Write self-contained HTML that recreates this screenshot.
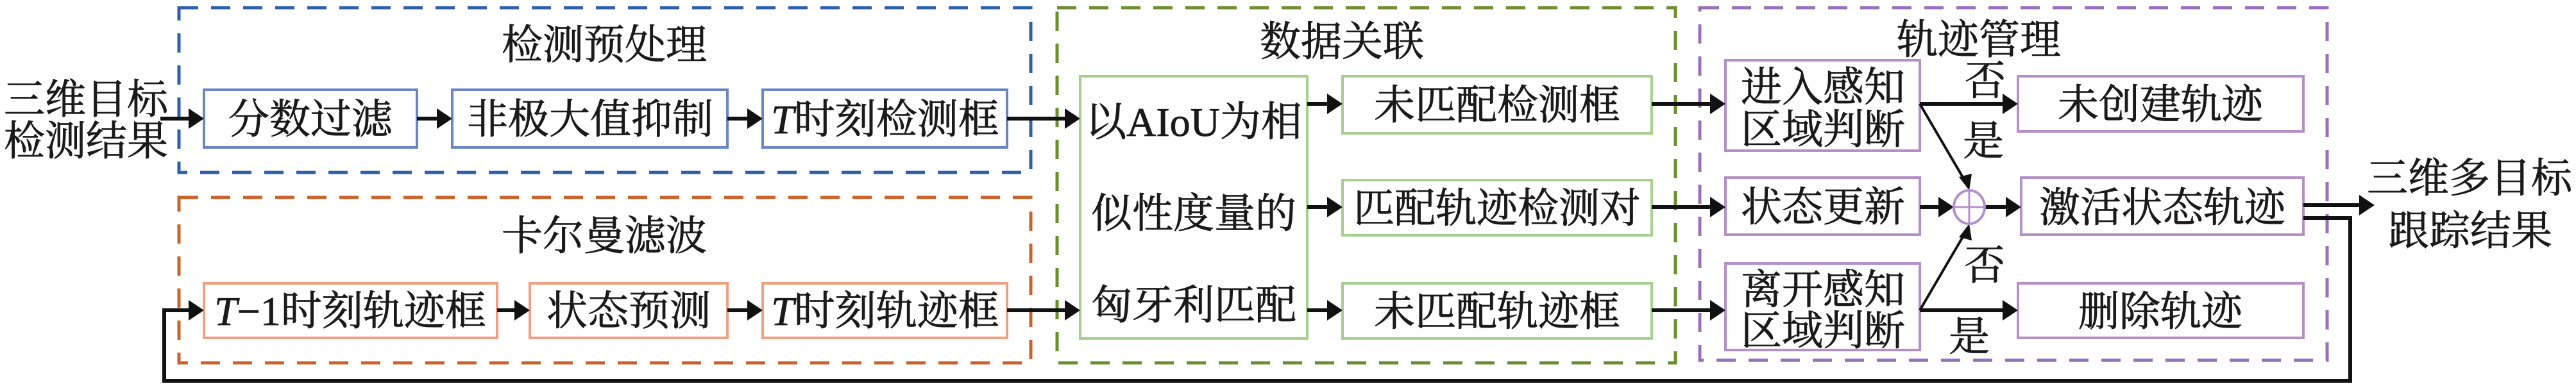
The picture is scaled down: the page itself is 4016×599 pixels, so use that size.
<!DOCTYPE html>
<html><head><meta charset="utf-8"><style>
html,body{margin:0;padding:0;background:#fff;}
svg{display:block;}
text{font-family:"Liberation Serif","Noto Serif CJK SC",serif;font-size:64px;fill:#1a1a1a;stroke:#1a1a1a;stroke-width:0.8px;}
</style></head><body>
<svg width="4016" height="599" viewBox="0 0 4016 599" xmlns="http://www.w3.org/2000/svg">
<rect x="279" y="12" width="1328" height="257" fill="none" stroke="#2e5fa8" stroke-width="5" stroke-dasharray="30,20"/>
<rect x="279" y="308" width="1328" height="258" fill="none" stroke="#c8642a" stroke-width="5" stroke-dasharray="30,20"/>
<rect x="1648" y="12" width="964" height="554" fill="none" stroke="#6a8f2c" stroke-width="5" stroke-dasharray="30,20"/>
<rect x="2650" y="12" width="978" height="550" fill="none" stroke="#9a70b8" stroke-width="5" stroke-dasharray="30,20"/>

<text x="942" y="92" text-anchor="middle">检测预处理</text>
<text x="942" y="390" text-anchor="middle">卡尔曼滤波</text>
<text x="2092" y="87" text-anchor="middle">数据关联</text>
<text x="3085" y="84" text-anchor="middle">轨迹管理</text>

<g fill="#fff" stroke-width="4">
<rect x="318" y="140" width="332" height="90" stroke="#6b86c8"/>
<rect x="705" y="140" width="429" height="90" stroke="#6b86c8"/>
<rect x="1189" y="140" width="381" height="90" stroke="#6b86c8"/>
<rect x="318" y="442" width="457" height="85" stroke="#f0a080"/>
<rect x="826" y="442" width="308" height="85" stroke="#f0a080"/>
<rect x="1189" y="442" width="381" height="85" stroke="#f0a080"/>
<rect x="1684" y="119" width="354" height="409" stroke="#a8d08d"/>
<rect x="2093" y="119" width="482" height="89" stroke="#a8d08d"/>
<rect x="2093" y="281" width="482" height="86" stroke="#a8d08d"/>
<rect x="2093" y="442" width="482" height="86" stroke="#a8d08d"/>
<rect x="2690" y="94" width="303" height="141" stroke="#b590c8"/>
<rect x="2690" y="277" width="303" height="89" stroke="#b590c8"/>
<rect x="2690" y="411" width="303" height="135" stroke="#b590c8"/>
<rect x="3146" y="119" width="445" height="86" stroke="#b590c8"/>
<rect x="3151" y="277" width="440" height="89" stroke="#b590c8"/>
<rect x="3146" y="442" width="445" height="85" stroke="#b590c8"/>
</g>

<text x="484" y="208" text-anchor="middle">分数过滤</text>
<text x="920" y="208" text-anchor="middle">非极大值抑制</text>
<text x="1380" y="208" text-anchor="middle"><tspan font-style="italic">T</tspan>时刻检测框</text>
<text x="546" y="507" text-anchor="middle"><tspan font-style="italic">T</tspan>−1时刻轨迹框</text>
<text x="980" y="507" text-anchor="middle">状态预测</text>
<text x="1380" y="507" text-anchor="middle"><tspan font-style="italic">T</tspan>时刻轨迹框</text>
<text x="1861" y="212" text-anchor="middle">以AIoU为相</text>
<text x="1861" y="355" text-anchor="middle">似性度量的</text>
<text x="1861" y="498" text-anchor="middle">匈牙利匹配</text>
<text x="2334" y="186" text-anchor="middle">未匹配检测框</text>
<text x="2334" y="347" text-anchor="middle">匹配轨迹检测对</text>
<text x="2334" y="508" text-anchor="middle">未匹配轨迹框</text>
<text x="2842" y="158" text-anchor="middle">进入感知</text>
<text x="2842" y="224" text-anchor="middle">区域判断</text>
<text x="2842" y="345" text-anchor="middle">状态更新</text>
<text x="2842" y="474" text-anchor="middle">离开感知</text>
<text x="2842" y="538" text-anchor="middle">区域判断</text>
<text x="3368" y="185" text-anchor="middle">未创建轨迹</text>
<text x="3371" y="346" text-anchor="middle">激活状态轨迹</text>
<text x="3368" y="508" text-anchor="middle">删除轨迹</text>

<text x="134" y="177" text-anchor="middle">三维目标</text>
<text x="134" y="242" text-anchor="middle">检测结果</text>
<text x="3850" y="300" text-anchor="middle">三维多目标</text>
<text x="3851" y="382" text-anchor="middle">跟踪结果</text>

<text x="3063" y="148">否</text>
<text x="3060" y="242">是</text>
<text x="3062" y="436">否</text>
<text x="3038" y="547">是</text>

<g stroke="#111" stroke-width="6" fill="none">
<line x1="250" y1="185" x2="300" y2="185"/>
<line x1="650" y1="185" x2="688" y2="185"/>
<line x1="1134" y1="185" x2="1172" y2="185"/>
<line x1="1570" y1="185" x2="1667" y2="185"/>
<polyline points="3591,340 3664,340 3664,594 256,594 256,484 300,484"/>
<line x1="775" y1="484" x2="809" y2="484"/>
<line x1="1134" y1="484" x2="1172" y2="484"/>
<line x1="1570" y1="484" x2="1667" y2="484"/>
<line x1="2038" y1="162" x2="2076" y2="162"/>
<line x1="2038" y1="323" x2="2076" y2="323"/>
<line x1="2038" y1="484" x2="2076" y2="484"/>
<line x1="2575" y1="162" x2="2673" y2="162"/>
<line x1="2575" y1="323" x2="2673" y2="323"/>
<line x1="2575" y1="484" x2="2673" y2="484"/>
<line x1="2993" y1="162" x2="3129" y2="162"/>
<line x1="2993" y1="484" x2="3129" y2="484"/>
<line x1="2993" y1="323" x2="3030" y2="323"/>
<line x1="3095" y1="323" x2="3134" y2="323"/>
<line x1="3591" y1="320" x2="3685" y2="320"/>
<line x1="2993" y1="162" x2="3065" y2="285" stroke-width="4"/>
<line x1="2993" y1="484" x2="3065" y2="361" stroke-width="4"/>
</g>
<g fill="#111">
<polygon points="318,185 294,169 294,201"/>
<polygon points="705,185 681,169 681,201"/>
<polygon points="1189,185 1165,169 1165,201"/>
<polygon points="1684,185 1660,169 1660,201"/>
<polygon points="318,484 294,468 294,500"/>
<polygon points="826,484 802,468 802,500"/>
<polygon points="1189,484 1165,468 1165,500"/>
<polygon points="1684,484 1660,468 1660,500"/>
<polygon points="2093,162 2069,146 2069,178"/>
<polygon points="2093,323 2069,307 2069,339"/>
<polygon points="2093,484 2069,468 2069,500"/>
<polygon points="2690,162 2666,146 2666,178"/>
<polygon points="2690,323 2666,307 2666,339"/>
<polygon points="2690,484 2666,468 2666,500"/>
<polygon points="3146,162 3122,146 3122,178"/>
<polygon points="3146,484 3122,468 3122,500"/>
<polygon points="3046,323 3022,307 3022,339"/>
<polygon points="3151,323 3127,307 3127,339"/>
<polygon points="3702,320 3678,304 3678,336"/>
<polygon points="3070,297 3054,276 3074,271"/>
<polygon points="3070,349 3054,370 3074,375"/>
</g>
<ellipse cx="3070" cy="323" rx="24" ry="26" fill="#fff" stroke="#b590c8" stroke-width="4"/>
<line x1="3046" y1="323" x2="3094" y2="323" stroke="#b590c8" stroke-width="3"/>
<line x1="3070" y1="297" x2="3070" y2="349" stroke="#b590c8" stroke-width="3"/>
</svg>
</body></html>
